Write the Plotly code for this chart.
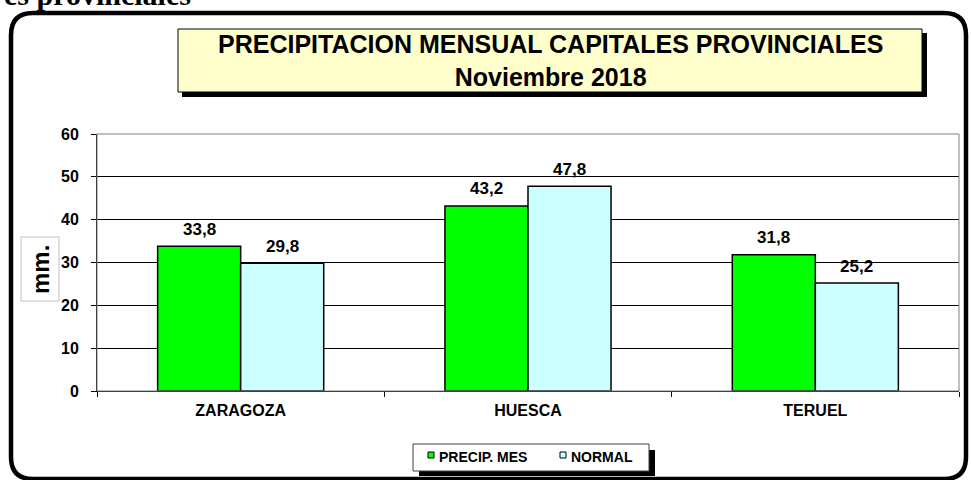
import plotly.graph_objects as go

# datos
ciudades = ["ZARAGOZA", "HUESCA", "TERUEL"]
precip_mes = [33.8, 43.2, 31.8]
normal = [29.8, 47.8, 25.2]
series = ["PRECIP. MES", "NORMAL"]
colores = ["#00FF00", "#CCFFFF"]

titulo = "PRECIPITACION MENSUAL CAPITALES PROVINCIALES<br>Noviembre 2018"
cabecera = "es provinciales"

FONT = "Liberation Sans, Arial, sans-serif"

# area de trazado en pixeles
L, R, T, B = 97, 959, 134, 391
W, H = 971, 480


def px(x):
    return (x - L) / (R - L)


def py(y):
    return (B - y) / (B - T)


def fmt(v):
    return f"{v:.1f}".replace(".", ",")


fig = go.Figure()
for nombre, vals, col in zip(series, [precip_mes, normal], colores):
    fig.add_trace(go.Bar(
        x=ciudades, y=vals, name=nombre,
        marker=dict(color=col, line=dict(color="black", width=1.5)),
        showlegend=False,
    ))

# etiquetas de valores sobre las barras
ancho_barra = 83
annots = []
for k, vals in enumerate([precip_mes, normal]):
    dx = -ancho_barra / 2 if k == 0 else ancho_barra / 2
    for c, v in zip(ciudades, vals):
        annots.append(dict(
            x=c, y=v, xref="x", yref="y", text=fmt(v), showarrow=False,
            xshift=dx, yshift=17, yanchor="middle",
            font=dict(family=FONT, size=17, color="black", weight="bold"),
        ))

# titulo
annots.append(dict(
    x=px(550), y=py(61), xref="paper", yref="paper", text=titulo,
    showarrow=False, xanchor="center", yanchor="middle",
    font=dict(family=FONT, size=25, color="black", weight="bold"),
))

# texto cortado arriba
annots.append(dict(
    x=px(193), y=py(13), xref="paper", yref="paper", text=cabecera,
    showarrow=False, xanchor="right", yanchor="bottom",
    font=dict(family="Liberation Serif, Times New Roman, serif", size=30,
              color="black", weight="bold"),
))

# etiqueta eje y
annots.append(dict(
    x=px(40), y=py(269), xref="paper", yref="paper", text="mm.",
    showarrow=False, textangle=-90, xanchor="center", yanchor="middle",
    font=dict(family=FONT, size=24, color="black", weight="bold"),
))

# leyenda
for nombre, col, mx in zip(series, colores, [428, 560]):
    annots.append(dict(
        x=px(mx + 9), y=py(457), xref="paper", yref="paper", text=nombre,
        showarrow=False, xanchor="left", yanchor="middle",
        font=dict(family=FONT, size=14, color="black", weight="bold"),
    ))

shapes = []


def rect(x0, y0, x1, y1, **kw):
    shapes.append(dict(type="rect", xref="paper", yref="paper",
                       x0=px(x0), x1=px(x1), y0=py(y0), y1=py(y1), **kw))


# marco redondeado
r = 22
x0, y0, x1, y1 = 11, 13, 966, 479
path = (
    f"M {px(x0 + r)},{py(y0)} L {px(x1 - r)},{py(y0)} "
    f"Q {px(x1)},{py(y0)} {px(x1)},{py(y0 + r)} "
    f"L {px(x1)},{py(y1 - r)} Q {px(x1)},{py(y1)} {px(x1 - r)},{py(y1)} "
    f"L {px(x0 + r)},{py(y1)} Q {px(x0)},{py(y1)} {px(x0)},{py(y1 - r)} "
    f"L {px(x0)},{py(y0 + r)} Q {px(x0)},{py(y0)} {px(x0 + r)},{py(y0)} Z"
)
shapes.append(dict(type="path", xref="paper", yref="paper", path=path,
                   line=dict(color="black", width=4.5)))

# borde del area de trazado
rect(L, T, R, B, line=dict(color="#808080", width=1), layer="above")

# caja del titulo con sombra
rect(182, 33, 927, 97, fillcolor="black", line=dict(width=0))
rect(178, 29, 922, 92, fillcolor="#FFFFCC", line=dict(color="black", width=1))

# caja mm.
rect(21, 237, 59, 301, fillcolor="white", line=dict(color="#C0C0C0", width=1))

# caja de la leyenda con sombra
rect(419, 450, 655, 476, fillcolor="black", line=dict(width=0))
rect(413, 444, 649, 471, fillcolor="white", line=dict(color="#404040", width=1))
for col, mx in zip(colores, [428, 560]):
    rect(mx, 452, mx + 6, 458, fillcolor=col, line=dict(color="black", width=1))

fig.update_layout(
    width=W, height=H,
    margin=dict(l=L, r=W - R, t=T, b=H - B),
    paper_bgcolor="white", plot_bgcolor="white",
    barmode="group", bargap=0.422, bargroupgap=0,
    shapes=shapes, annotations=annots,
    xaxis=dict(
        showline=True, linecolor="black", linewidth=1,
        ticks="outside", tickson="boundaries", ticklen=5, tickcolor="black",
        showgrid=False, ticklabelstandoff=5,
        tickfont=dict(family=FONT, size=16, color="black", weight="bold"),
    ),
    yaxis=dict(
        range=[0, 60], dtick=10, showline=True, linecolor="black", linewidth=1,
        ticks="outside", ticklen=5, tickcolor="black",
        showgrid=True, gridcolor="black", gridwidth=1, zeroline=False,
        ticklabelstandoff=9,
        tickfont=dict(family=FONT, size=16, color="black", weight="bold"),
    ),
)

# quitar el margen del body para que la figura empiece en (0, 0)
fig.write_html("out.html", config={"displayModeBar": False},
               post_script="document.body.style.margin='0';")
